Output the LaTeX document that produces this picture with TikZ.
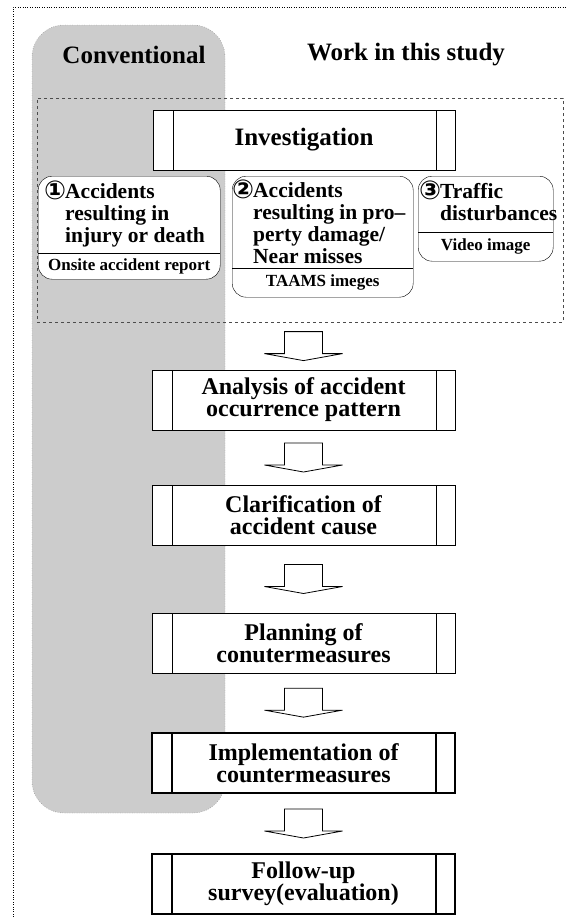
\documentclass[tikz,border=0pt]{standalone}
\usepackage{fontspec}
\setmainfont{Liberation Serif}
\newfontfamily\circfont{DejaVu Sans}
\usetikzlibrary{calc}

\newcommand{\circnum}[1]{\llap{\smash{\raisebox{-1.5pt}{\circfont\fontsize{26}{22}\selectfont #1}}\kern-1pt}}

\tikzset{
  stagebox/.style={draw, fill=white, inner sep=0pt, minimum width=303pt, minimum height=60pt,
    align=center, font=\fontsize{24}{22}\selectfont\bfseries,
    path picture={
      \draw ([xshift=20pt]path picture bounding box.north west) -- ([xshift=20pt]path picture bounding box.south west);
      \draw ([xshift=-19pt]path picture bounding box.north east) -- ([xshift=-19pt]path picture bounding box.south east);}},
  heavy/.style={line width=1.8pt},
  srcbox/.style={draw, fill=white, rounded corners=14pt, inner sep=0pt, anchor=north west},
  srctext/.style={inner sep=0pt, align=left, anchor=base west, font=\fontsize{21.5}{22}\selectfont\bfseries},
  medium/.style={inner sep=0pt, font=\fontsize{17}{20}\selectfont\bfseries},
  title/.style={inner sep=0pt, font=\fontsize{25}{28}\selectfont\bfseries},
  hollow/.style={draw, fill=white, line width=0.8pt}
}

% hollow block arrow between two stages
\newcommand{\flowarrow}[2]{%
  \coordinate (mid) at ($(#1.south)!0.5!(#2.north)$);
  \coordinate (m) at (#2.north |- mid);
  \draw[hollow] ([shift={(-19pt,14.5pt)}]m) -- ([shift={(19pt,14.5pt)}]m) -- ([shift={(19pt,-7.5pt)}]m)
    -- ([shift={(39pt,-7.5pt)}]m) -- ([shift={(0pt,-14.5pt)}]m) -- ([shift={(-39pt,-7.5pt)}]m)
    -- ([shift={(-19pt,-7.5pt)}]m) -- cycle;
}

\begin{document}
\begin{tikzpicture}[x=1pt,y=-1pt]
\useasboundingbox (0,0) rectangle (567,919);
\draw[dotted] (13,919) -- (13,7) -- (567,7);
% conventional band
\draw[dotted, draw=black!60, fill=gray!40, rounded corners=32pt] (32,25) rectangle (225,813);
\node[title] (conv) at (134,55) {Conventional};
\node[title] (ours) at (406,55) {Work in this study};

\node[draw=black!70, dashed, inner sep=0pt, minimum width=526pt, minimum height=224pt, anchor=north west] (study) at (37,98) {};
\node[stagebox, minimum width=302pt, font=\fontsize{25}{28}\selectfont\bfseries] (investigation) at (304,140) {Investigation};

% sources
\node[srcbox, minimum width=182pt, minimum height=103pt] (injury) at (38,176) {};
\node[srcbox, minimum width=181pt, minimum height=121pt] (damage) at (232,176) {};
\node[srcbox, minimum width=135pt, minimum height=85pt] (disturb) at (418,176) {};
\coordinate (injsep) at (0,253);
\coordinate (damsep) at (0,268);
\coordinate (dissep) at (0,232);
\draw (injury.west |- injsep) -- (injury.east |- injsep);
\draw (damage.west |- damsep) -- (damage.east |- damsep);
\draw (disturb.west |- dissep) -- (disturb.east |- dissep);
% anchored at the last baseline
\node[srctext] (injurytxt) at (65,242) {\circnum{①}Accidents\\resulting in\\injury or death};
\node[srctext] (damagetxt) at (253,263) {\circnum{②}Accidents\\resulting in pro--\\perty damage/\\Near misses};
\node[srctext] (disturbtxt) at (440,220) {\circnum{③}Traffic\\disturbances};
\node[medium] (injurysrc) at ($(injury.south)!0.5!(injury.south |- injsep)$) {Onsite accident report};
\node[medium] (damagesrc) at ($(damage.south)!0.5!(damage.south |- damsep)$) {TAAMS imeges};
\node[medium] (disturbsrc) at ($(disturb.south)!0.5!(disturb.south |- dissep)$) {Video image};

% stages
\node[stagebox] (analysis) at (303.5,400) {Analysis of accident\\occurrence pattern};
\node[stagebox] (cause) at (303.5,515) {Clarification of\\accident cause};
\node[stagebox] (planning) at (303.5,643) {Planning of\\conutermeasures};
\node[stagebox, heavy] (implement) at (303.5,763) {Implementation of\\countermeasures};
\node[stagebox, heavy] (followup) at (303.5,884) {Follow-up\\survey(evaluation)};

\flowarrow{study}{analysis}
\flowarrow{analysis}{cause}
\flowarrow{cause}{planning}
\flowarrow{planning}{implement}
\flowarrow{implement}{followup}
\end{tikzpicture}
\end{document}
